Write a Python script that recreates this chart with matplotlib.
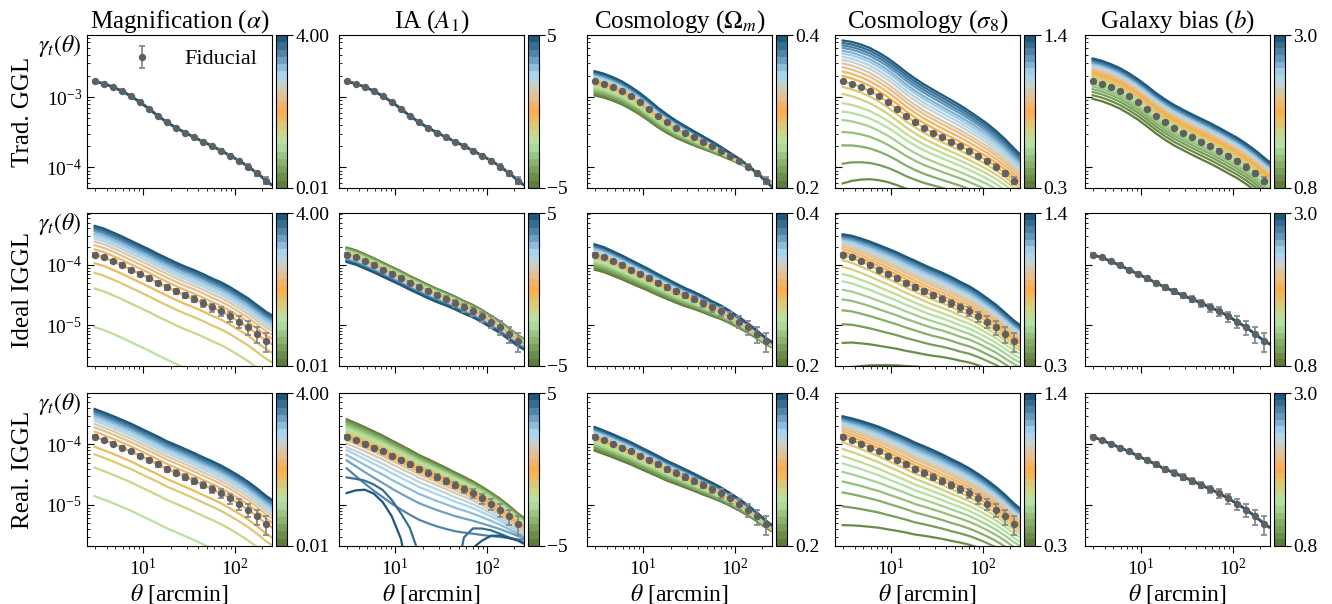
import numpy as np
import matplotlib
matplotlib.use('Agg')
import matplotlib.pyplot as plt
from matplotlib.colors import LinearSegmentedColormap, ListedColormap, BoundaryNorm
from matplotlib.cm import ScalarMappable

plt.rcParams['font.family'] = ['Liberation Serif', 'DejaVu Serif']
plt.rcParams['mathtext.fontset'] = 'stix'

# angular bins (arcmin) and right edge of the model curves
theta = [2.97, 3.72, 4.67, 5.86, 7.35, 9.22, 11.6, 14.5, 18.2, 22.8,
         28.6, 35.9, 45.0, 56.5, 70.9, 88.9, 111.5, 139.9, 175.5, 220.2]
theta_edge = 250.0
theta_anchor = [2.97, 28.6, 250.0]

# fiducial gamma_t per row (20 bins) + value at right edge
fid_trad = [1.67e-3, 1.55e-3, 1.39e-3, 1.22e-3, 1.03e-3, 8.5e-4, 6.8e-4, 5.4e-4, 4.4e-4, 3.66e-4,
            3.13e-4, 2.69e-4, 2.33e-4, 2.02e-4, 1.73e-4, 1.47e-4, 1.25e-4, 1.03e-4, 8.3e-5, 6.5e-5]
fid_ideal = [1.46e-4, 1.32e-4, 1.14e-4, 9.8e-5, 8.3e-5, 7.05e-5, 5.98e-5, 5.01e-5, 4.26e-5, 3.61e-5,
             3.10e-5, 2.71e-5, 2.33e-5, 1.97e-5, 1.70e-5, 1.41e-5, 1.14e-5, 9.2e-6, 7.1e-6, 5.5e-6]
fid_real = [1.34e-4, 1.18e-4, 1.03e-4, 8.9e-5, 7.7e-5, 6.5e-5, 5.52e-5, 4.69e-5, 3.93e-5, 3.41e-5,
            2.93e-5, 2.52e-5, 2.14e-5, 1.84e-5, 1.56e-5, 1.29e-5, 1.05e-5, 8.4e-6, 6.5e-6, 4.9e-6]
fid_edge = [5.7e-5, 4.9e-6, 4.3e-6]

# relative errors of the fiducial points
err_trad = [0.01, 0.01, 0.01, 0.012, 0.013, 0.015, 0.017, 0.02, 0.022, 0.025,
            0.028, 0.032, 0.036, 0.04, 0.045, 0.05, 0.06, 0.07, 0.085, 0.11]
err_ideal = [0.07, 0.07, 0.07, 0.07, 0.075, 0.08, 0.085, 0.09, 0.095, 0.1,
             0.11, 0.12, 0.13, 0.15, 0.17, 0.19, 0.22, 0.26, 0.3, 0.36]
err_real = [0.06, 0.06, 0.06, 0.065, 0.07, 0.075, 0.08, 0.085, 0.09, 0.095,
            0.1, 0.11, 0.12, 0.14, 0.16, 0.18, 0.21, 0.25, 0.29, 0.34]

# parameter grids (one curve each)
alpha_vals = [0.01, 0.21, 0.41, 0.61, 0.81, 1.01, 1.21, 1.41, 1.61, 1.81, 2.00,
              2.20, 2.40, 2.60, 2.80, 3.00, 3.20, 3.40, 3.60, 3.80, 4.00]
a1_vals = [-5, -4.5, -4, -3.5, -3, -2.5, -2, -1.5, -1, -0.5, 0,
           0.5, 1, 1.5, 2, 2.5, 3, 3.5, 4, 4.5, 5]
om_vals = [0.20, 0.21, 0.22, 0.23, 0.24, 0.25, 0.26, 0.27, 0.28, 0.29, 0.30,
           0.31, 0.32, 0.33, 0.34, 0.35, 0.36, 0.37, 0.38, 0.39, 0.40]
s8_vals = [0.30, 0.35, 0.40, 0.45, 0.50, 0.55, 0.60, 0.65, 0.70, 0.75, 0.80, 0.85,
           0.90, 0.95, 1.00, 1.05, 1.10, 1.15, 1.20, 1.25, 1.30, 1.35, 1.40]
b_vals = [0.8, 0.9, 1.0, 1.1, 1.2, 1.3, 1.4, 1.5, 1.6, 1.7, 1.8, 1.9,
          2.0, 2.1, 2.2, 2.3, 2.4, 2.5, 2.6, 2.7, 2.8, 2.9, 3.0]

# offsets of each curve w.r.t. the fiducial (dex) at theta_anchor: small, mid, large scales
# --- Trad. GGL
trad_alpha = [[0.0] * 21, [0.0] * 21, [0.0] * 21]
trad_ia = [[0.0] * 21, [0.0] * 21, [0.0] * 21]
trad_om = [[-0.20, -0.18, -0.155, -0.13, -0.11, -0.09, -0.07, -0.05, -0.035, -0.017, 0,
            0.016, 0.032, 0.047, 0.062, 0.077, 0.091, 0.105, 0.118, 0.131, 0.144],
           [-0.13, -0.116, -0.10, -0.086, -0.073, -0.059, -0.047, -0.034, -0.022, -0.011, 0,
            0.011, 0.021, 0.031, 0.041, 0.05, 0.059, 0.068, 0.077, 0.085, 0.094],
           [0.035, 0.031, 0.027, 0.023, 0.019, 0.016, 0.012, 0.009, 0.006, 0.003, 0,
            -0.003, -0.006, -0.008, -0.011, -0.013, -0.016, -0.018, -0.021, -0.023, -0.025]]
trad_s8 = [[-1.85, -1.45, -1.17, -0.91, -0.72, -0.55, -0.43, -0.31, -0.18, -0.08, 0, 0.075,
            0.14, 0.2, 0.255, 0.305, 0.35, 0.395, 0.435, 0.475, 0.51, 0.545, 0.58],
           [-1.06, -0.90, -0.75, -0.63, -0.51, -0.41, -0.31, -0.23, -0.15, -0.07, 0, 0.065,
            0.13, 0.19, 0.24, 0.30, 0.35, 0.40, 0.44, 0.49, 0.53, 0.57, 0.61],
           [-0.77, -0.65, -0.54, -0.45, -0.37, -0.29, -0.23, -0.16, -0.10, -0.05, 0, 0.047,
            0.092, 0.135, 0.175, 0.21, 0.25, 0.28, 0.32, 0.35, 0.38, 0.41, 0.44]]
trad_b_off = [-0.249, -0.198, -0.152, -0.111, -0.073, -0.038, -0.006, 0.024, 0.052, 0.078, 0.103, 0.127,
              0.149, 0.170, 0.190, 0.209, 0.228, 0.246, 0.263, 0.279, 0.295, 0.310, 0.325]
trad_b = [trad_b_off, trad_b_off, trad_b_off]

# --- Ideal IGGL
ideal_alpha_off = [-3, -3, -3, -3, -3, -3, -1.2, -0.56, -0.30, -0.14, 0,
                   0.09, 0.16, 0.22, 0.27, 0.31, 0.35, 0.39, 0.42, 0.45, 0.48]
ideal_alpha = [ideal_alpha_off, ideal_alpha_off, ideal_alpha_off]
ideal_ia = [[0.12, 0.108, 0.096, 0.084, 0.072, 0.06, 0.048, 0.036, 0.024, 0.012, 0,
             -0.012, -0.024, -0.036, -0.048, -0.06, -0.072, -0.084, -0.096, -0.108, -0.12],
            [0.11, 0.099, 0.088, 0.077, 0.066, 0.055, 0.044, 0.033, 0.022, 0.011, 0,
             -0.011, -0.022, -0.033, -0.044, -0.055, -0.066, -0.077, -0.088, -0.099, -0.11],
            [0.09, 0.081, 0.072, 0.063, 0.054, 0.045, 0.036, 0.027, 0.018, 0.009, 0,
             -0.009, -0.018, -0.027, -0.036, -0.045, -0.054, -0.063, -0.072, -0.081, -0.09]]
ideal_om = [[-0.246, -0.217, -0.189, -0.161, -0.136, -0.111, -0.087, -0.064, -0.042, -0.021, 0,
             0.020, 0.039, 0.057, 0.076, 0.094, 0.111, 0.127, 0.144, 0.160, 0.175],
            [-0.176, -0.155, -0.135, -0.115, -0.097, -0.079, -0.062, -0.046, -0.030, -0.015, 0,
             0.014, 0.028, 0.041, 0.054, 0.067, 0.079, 0.091, 0.103, 0.114, 0.125],
            [-0.053, -0.047, -0.041, -0.035, -0.029, -0.024, -0.019, -0.014, -0.009, -0.005, 0,
             0.004, 0.008, 0.012, 0.016, 0.020, 0.024, 0.027, 0.031, 0.034, 0.038]]
ideal_s8 = [[-1.9, -1.46, -1.15, -0.92, -0.74, -0.58, -0.44, -0.32, -0.2, -0.09, 0, 0.05,
             0.095, 0.135, 0.17, 0.2, 0.225, 0.25, 0.27, 0.29, 0.31, 0.325, 0.34],
            [-1.2, -1.0, -0.82, -0.67, -0.54, -0.43, -0.33, -0.24, -0.15, -0.07, 0, 0.06,
             0.11, 0.16, 0.2, 0.24, 0.28, 0.31, 0.34, 0.37, 0.4, 0.42, 0.44],
            [-0.8, -0.67, -0.56, -0.47, -0.38, -0.3, -0.23, -0.16, -0.1, -0.05, 0, 0.04,
             0.08, 0.11, 0.14, 0.17, 0.2, 0.22, 0.24, 0.26, 0.28, 0.3, 0.32]]
ideal_b = [[0.0] * 23, [0.0] * 23, [0.0] * 23]

# --- Real. IGGL
real_alpha_off = [-3, -3, -3, -3, -3, -3, -0.98, -0.51, -0.29, -0.165, 0,
                  0.085, 0.155, 0.21, 0.26, 0.30, 0.34, 0.375, 0.405, 0.435, 0.46]
real_alpha = [real_alpha_off, real_alpha_off, real_alpha_off]
real_ia = [[0.29, 0.265, 0.24, 0.21, 0.18, 0.15, 0.12, 0.09, 0.06, 0.03, 0,
            -0.03, -0.055, -0.11, -0.17, -0.22, -0.30, -0.39, -0.52, -0.67, -0.93],
           [0.22, 0.2, 0.18, 0.16, 0.14, 0.12, 0.1, 0.075, 0.05, 0.025, 0,
            -0.04, -0.085, -0.14, -0.21, -0.29, -0.40, -0.55, -0.82, -9, -9],
           [0.165, 0.15, 0.135, 0.12, 0.105, 0.09, 0.075, 0.06, 0.04, 0.02, 0,
            -0.02, -0.045, -0.07, -0.1, -0.12, -0.15, -0.17, -0.2, -0.25, -0.26]]
# the two strongest IA curves change sign: offsets at every theta (nan = negative)
real_ia_a45 = [-0.67, -0.64, -0.61, -0.61, -0.64, -0.73, -0.88, -1.05, -1.4, np.nan, np.nan,
               np.nan, -1.6, -0.8, -0.58, -0.5, -0.44, -0.4, -0.35, -0.27, -0.25]
real_ia_a50 = [-0.93, -0.83, -0.76, -0.76, -0.84, -1.0, -1.3, -2.0, np.nan, np.nan, np.nan,
               np.nan, np.nan, np.nan, -0.9, -0.7, -0.53, -0.43, -0.36, -0.28, -0.27]
real_om = [[-0.23, -0.20, -0.175, -0.15, -0.126, -0.103, -0.081, -0.06, -0.039, -0.019, 0,
            0.018, 0.036, 0.054, 0.071, 0.087, 0.103, 0.118, 0.134, 0.148, 0.162],
           [-0.176, -0.155, -0.135, -0.115, -0.097, -0.079, -0.062, -0.046, -0.030, -0.015, 0,
            0.014, 0.028, 0.041, 0.054, 0.067, 0.079, 0.091, 0.103, 0.114, 0.125],
           [-0.062, -0.054, -0.047, -0.04, -0.034, -0.028, -0.022, -0.016, -0.011, -0.005, 0,
            0.005, 0.01, 0.014, 0.019, 0.023, 0.028, 0.032, 0.036, 0.04, 0.044]]
real_s8 = ideal_s8
real_b = [[0.0] * 23, [0.0] * 23, [0.0] * 23]

col_titles = [r'Magnification ($\alpha$)', r'IA ($A_1$)', r'Cosmology ($\Omega_m$)',
              r'Cosmology ($\sigma_8$)', r'Galaxy bias ($b$)']
row_labels = ['Trad. GGL', 'Ideal IGGL', 'Real. IGGL']
cbar_ticklabels = [['0.01', '4.00'], ['\u22125', '5'], ['0.2', '0.4'], ['0.3', '1.4'], ['0.8', '3.0']]
params = [alpha_vals, a1_vals, om_vals, s8_vals, b_vals]
offsets = [[trad_alpha, trad_ia, trad_om, trad_s8, trad_b],
           [ideal_alpha, ideal_ia, ideal_om, ideal_s8, ideal_b],
           [real_alpha, real_ia, real_om, real_s8, real_b]]
fids = [fid_trad, fid_ideal, fid_real]
errs = [err_trad, err_ideal, err_real]
ylims = [(5.1e-5, 7.6e-3), (2.1e-6, 7.2e-4), (2.1e-6, 7.1e-4)]

cmap = LinearSegmentedColormap.from_list('gbo', [
    (0.00, '#5e7b38'), (0.15, '#8ab46c'), (0.28, '#b6e4a6'), (0.38, '#d6cf7c'),
    (0.50, '#f9ad4a'), (0.60, '#e4c08e'), (0.68, '#c8d3cf'), (0.76, '#a6d4f0'),
    (0.88, '#5b8fb4'), (1.00, '#1e587a')])

th_line = np.log10(np.append(theta, theta_edge))
th_anc = np.log10(theta_anchor)


def curve(fid, edge, off):
    y = np.log10(np.append(fid, edge))
    c = np.polyfit(th_anc, off, 2)
    return 10 ** (y + np.polyval(c, th_line))


W, H = 1332, 604
col_left = [87, 339, 587, 835, 1085]
row_top = [35, 213, 393]
aw, ah = 185, 153

fig = plt.figure(figsize=(W / 100, H / 100), dpi=100)

for r in range(3):
    for c in range(5):
        l, t = col_left[c], row_top[r]
        ax = fig.add_axes([l / W, 1 - (t + ah) / H, aw / W, ah / H])
        cax = fig.add_axes([(l + aw + 4) / W, 1 - (t + ah) / H, 11 / W, ah / H])

        vals = params[c]
        n = len(vals)
        cols = [cmap(k / (n - 1)) for k in range(n)]
        L, M, R = offsets[r][c]
        for k in range(n):
            off = [L[k], M[k], R[k]]
            if r == 2 and c == 1 and vals[k] >= 4.5:
                dive = real_ia_a45 if vals[k] == 4.5 else real_ia_a50
                y = np.append(fids[r], fid_edge[r]) * 10 ** np.array(dive)
            else:
                y = curve(fids[r], fid_edge[r], off)
            ax.plot(10 ** th_line, y, color=cols[k], lw=1.6, zorder=2)

        ax.errorbar(theta, fids[r], yerr=np.array(fids[r]) * np.array(errs[r]), fmt='o',
                    color='#606060', ecolor='#8a8a8a', ms=4.3, elinewidth=1.3, capsize=2.5,
                    capthick=1.3, zorder=5, label='Fiducial')

        ax.set_xscale('log')
        ax.set_yscale('log')
        ax.set_xlim(2.45, 255)
        ax.set_ylim(*ylims[r])
        ax.tick_params(axis='y', which='both', direction='in')
        ax.tick_params(axis='x', which='both', direction='out')
        ax.tick_params(which='major', length=5, labelsize=14)
        ax.tick_params(which='minor', length=2.5)
        if c > 0:
            ax.tick_params(axis='y', labelleft=False)
        if r < 2:
            ax.tick_params(axis='x', labelbottom=False)
        else:
            ax.set_xlabel(r'$\theta$ [arcmin]', fontsize=17, labelpad=2)
        if r == 0:
            ax.set_title(col_titles[c], fontsize=18, pad=3)
        if c == 0:
            ax.set_ylabel(row_labels[r], fontsize=18, labelpad=9)
            ax.text(-0.03, 1.01, r'$\gamma_t(\theta)$', transform=ax.transAxes,
                    ha='right', va='top', fontsize=17)
        if r == 0 and c == 0:
            ax.legend(loc='upper right', frameon=False, fontsize=16,
                      bbox_to_anchor=(1.03, 1.04), handlelength=1.2, handletextpad=1.3)

        # discrete colour bar
        sm = ScalarMappable(cmap=ListedColormap(cols),
                            norm=BoundaryNorm(np.linspace(vals[0], vals[-1], n + 1), n))
        cb = fig.colorbar(sm, cax=cax)
        cb.set_ticks([vals[0], vals[-1]])
        cb.set_ticklabels(cbar_ticklabels[c])
        cb.ax.tick_params(labelsize=14, length=4, pad=2)
        cb.ax.minorticks_off()

fig.savefig('out.png', dpi=100)
